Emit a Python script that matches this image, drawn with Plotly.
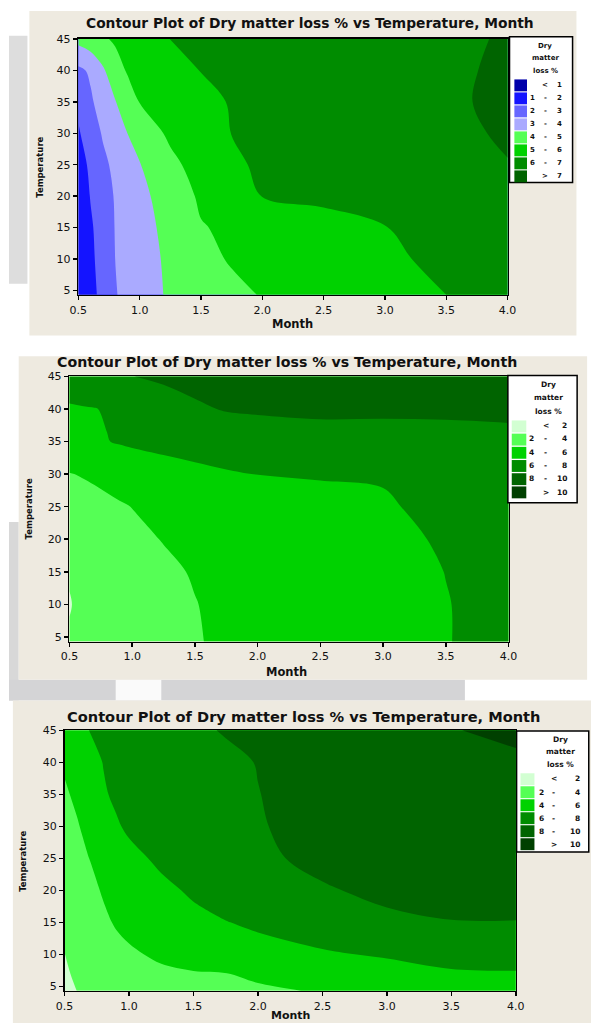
import plotly.graph_objects as go

# ---------------- data ----------------
months = [0.5, 0.6, 0.7, 0.8, 0.9, 1.0, 1.25, 1.5, 1.75, 2.0, 2.5, 3.0, 3.5, 4.0]

temps_a = [4.3, 10, 15, 20, 25, 30, 35, 40, 45]
loss_a = [
    [1.05, 1.68, 2.31, 2.94, 3.26, 3.56, 4.13, 4.45, 4.78, 5.05, 5.37, 5.68, 6.00, 6.30],
    [1.10, 1.79, 2.41, 3.00, 3.28, 3.56, 4.20, 4.74, 5.08, 5.24, 5.55, 5.86, 6.18, 6.50],
    [1.20, 1.87, 2.47, 3.03, 3.32, 3.62, 4.31, 4.95, 5.15, 5.32, 5.65, 5.98, 6.29, 6.60],
    [1.30, 2.05, 2.58, 3.07, 3.40, 3.73, 4.49, 5.13, 5.58, 6.02, 6.20, 6.40, 6.60, 6.80],
    [1.50, 2.22, 2.78, 3.22, 3.59, 3.96, 4.77, 5.38, 5.90, 6.09, 6.31, 6.54, 6.76, 6.98],
    [1.90, 2.50, 3.09, 3.55, 4.00, 4.40, 5.18, 5.61, 6.01, 6.13, 6.38, 6.62, 6.86, 7.07],
    [2.20, 2.87, 3.42, 3.95, 4.53, 5.03, 5.41, 5.79, 6.05, 6.17, 6.41, 6.65, 6.85, 7.20],
    [2.80, 3.14, 3.86, 4.62, 5.08, 5.25, 5.67, 6.02, 6.13, 6.23, 6.44, 6.66, 6.87, 7.12],
    [4.30, 4.59, 4.88, 5.12, 5.32, 5.52, 6.01, 6.10, 6.19, 6.29, 6.48, 6.67, 6.86, 7.06],
]

temps_b = [4.3, 10, 15, 20, 25, 30, 35, 40, 45]
loss_b = [
    [2.20, 2.55, 2.80, 3.00, 3.20, 3.35, 3.65, 3.90, 4.25, 4.55, 4.95, 5.30, 5.95, 6.45],
    [1.90, 2.40, 2.70, 2.95, 3.15, 3.30, 3.65, 3.96, 4.30, 4.60, 5.00, 5.30, 5.95, 6.50],
    [2.15, 2.60, 2.85, 3.05, 3.25, 3.40, 3.75, 4.10, 4.45, 4.75, 5.15, 5.45, 6.02, 6.60],
    [2.70, 2.95, 3.15, 3.35, 3.55, 3.70, 4.05, 4.40, 4.75, 5.05, 5.40, 5.65, 6.15, 6.80],
    [3.20, 3.40, 3.60, 3.75, 3.88, 4.02, 4.40, 4.75, 5.10, 5.40, 5.60, 5.80, 6.50, 7.00],
    [3.95, 4.08, 4.20, 4.35, 4.55, 4.80, 5.30, 5.60, 5.85, 6.02, 6.10, 6.15, 6.50, 6.80],
    [5.20, 5.45, 5.70, 5.95, 6.15, 6.30, 6.50, 6.70, 6.90, 7.10, 7.35, 7.30, 7.40, 7.60],
    [5.80, 5.88, 5.95, 6.13, 6.47, 6.80, 7.28, 7.77, 8.10, 8.20, 8.30, 8.30, 8.30, 8.30],
    [7.00, 7.20, 7.40, 7.60, 7.80, 7.98, 8.25, 8.50, 8.75, 9.00, 9.20, 9.40, 9.60, 9.80],
]

temps_c = [4.3, 7, 10, 15, 20, 25, 30, 35, 40, 45]
loss_c = [
    [1.70, 2.02, 2.40, 2.75, 3.00, 3.20, 3.45, 3.60, 3.75, 3.80, 4.10, 4.50, 4.80, 5.00],
    [1.80, 2.25, 2.65, 2.95, 3.20, 3.40, 3.70, 3.88, 3.98, 4.25, 4.75, 5.30, 5.85, 5.90],
    [1.98, 2.40, 2.80, 3.15, 3.50, 3.75, 4.30, 4.80, 5.10, 5.35, 5.80, 6.20, 6.50, 6.60],
    [2.35, 2.75, 3.20, 3.70, 4.15, 4.50, 5.10, 5.55, 5.95, 6.30, 7.00, 7.70, 7.95, 7.95],
    [2.70, 3.10, 3.60, 4.15, 4.60, 5.00, 5.60, 6.25, 6.80, 7.20, 7.85, 8.35, 8.60, 8.70],
    [3.10, 3.55, 4.05, 4.55, 5.05, 5.50, 6.35, 6.90, 7.30, 7.70, 8.40, 8.85, 9.15, 9.35],
    [3.50, 3.90, 4.50, 5.10, 5.80, 6.30, 6.75, 7.10, 7.45, 7.90, 8.50, 8.95, 9.25, 9.45],
    [3.80, 4.30, 5.10, 5.80, 6.30, 6.55, 6.90, 7.25, 7.60, 7.97, 8.60, 9.00, 9.30, 9.50],
    [4.20, 4.80, 5.40, 6.05, 6.40, 6.65, 7.00, 7.35, 7.70, 8.05, 8.60, 9.00, 9.30, 9.60],
    [5.20, 5.60, 6.05, 6.30, 6.50, 6.70, 7.20, 7.75, 8.10, 8.50, 9.00, 9.40, 9.90, 10.50],
]

levels_a = [1, 2, 3, 4, 5, 6, 7]
levels_bc = [2, 4, 6, 8, 10]
colors_a = ["#0000AA", "#1414FF", "#6666FF", "#AAAAFF", "#55FF55", "#00D200", "#008C00", "#006400"]
colors_bc = ["#D2FFD2", "#55FF55", "#00D200", "#008C00", "#006400", "#004000"]

month_ticks = [0.5, 1.0, 1.5, 2.0, 2.5, 3.0, 3.5, 4.0]
temp_ticks = [5, 10, 15, 20, 25, 30, 35, 40, 45]
chart_title = "Contour Plot of Dry matter loss % vs Temperature, Month"
legend_title = ["Dry", "matter", "loss %"]
x_title = "Month"
y_title = "Temperature"

# ---------------- layout helpers ----------------
W, H = 600, 1025
FONT = "DejaVu Sans"


def PX(x):
    return x / W


def PY(y):
    return 1 - y / H


shapes = []
annotations = []


def rect(x0, y0, x1, y1, fill, line=None, lw=0, layer="below"):
    shapes.append(dict(type="rect", xref="paper", yref="paper",
                       x0=PX(x0), x1=PX(x1), y0=PY(y1), y1=PY(y0),
                       fillcolor=fill, layer=layer,
                       line=dict(color=line or fill, width=lw)))


def text(x, y, s, size, bold=False, xanchor="center", angle=0, color="#111111"):
    annotations.append(dict(xref="paper", yref="paper", x=PX(x), y=PY(y), text=s,
                            showarrow=False, xanchor=xanchor, yanchor="middle",
                            textangle=angle,
                            font=dict(family=FONT, size=size, color=color,
                                      weight="bold" if bold else "normal")))


# page background patches (screenshot backdrop)
rect(0, 30, 19, 280, "#DDDDDD")
rect(0, 520, 10, 700, "#D8D8D8")
rect(0, 679, 470, 700, "#D4D4D6")
rect(110, 679, 157, 700, "#FAFAFA")

panels = [
    dict(bg=(21, 5, 585, 332), plot=(71.5, 33.3, 514, 291), z=loss_a, t=temps_a,
         lv=levels_a, col=colors_a, title=(310, 17, 13.8), xt=(292, 321), yt=(32, 163),
         leg=dict(box=(516, 31, 581, 178), tx=553, ty=40, tdy=12.7,
                  sx=(521, 534), s0=74, sdy=13.1, sh=12,
                  lx=540, dx=553, rx=572, l0=80, ldy=13.1, fs=7)),
    dict(bg=(10, 353, 596, 679), plot=(62.3, 373.3, 515, 640.5), z=loss_b, t=temps_b,
         lv=levels_bc, col=colors_bc, title=(287, 359, 14.2), xt=(286, 671), yt=(21, 507),
         leg=dict(box=(514.3, 372.3, 585.7, 500.7), tx=556.7, ty=381.7, tdy=13.3,
                  sx=(518.3, 533.3), s0=417.7, sdy=13.3, sh=12,
                  lx=538.3, dx=553.3, rx=577.7, l0=423, ldy=13.4, fs=7.5)),
    dict(bg=(4, 700, 600, 1025), plot=(57.3, 730, 522.5, 992.5), z=loss_c, t=temps_c,
         lv=levels_bc, col=colors_bc, title=(304, 716, 14.6), xt=(290, 1017), yt=(15, 862),
         leg=dict(box=(523.3, 730.7, 597.7, 852.7), tx=568.3, ty=739.3, tdy=12.5,
                  sx=(527.3, 541.7), s0=773.3, sdy=13.1, sh=12,
                  lx=549.3, dx=561.7, rx=591, l0=779, ldy=13.3, fs=7.5)),
]

fig = go.Figure()

for i, p in enumerate(panels):
    k = "" if i == 0 else str(i + 1)
    bx0, by0, bx1, by1 = p["bg"]
    rect(bx0, by0, bx1, by1, "#EEEAE0")

    lv = p["lv"]
    n = len(lv)
    cscale = [[j / n, c] for j, c in enumerate(p["col"])]
    fig.add_trace(go.Contour(
        x=months, y=p["t"], z=p["z"],
        xaxis="x" + k, yaxis="y" + k,
        autocontour=False,
        contours=dict(start=lv[0], end=lv[-1], size=lv[1] - lv[0],
                      coloring="fill", showlines=False),
        line=dict(width=0),
        colorscale=cscale, showscale=False, hoverinfo="skip",
    ))

    x0, y0, x1, y1 = p["plot"]
    axcommon = dict(showgrid=False, zeroline=False, showline=True, mirror=True,
                    linecolor="black", linewidth=1.6, ticks="outside", ticklen=4,
                    tickwidth=1.5, tickcolor="black",
                    tickfont=dict(family=FONT, size=11, color="#111111"))
    fig.update_layout(**{
        "xaxis" + k: dict(domain=[PX(x0), PX(x1)], range=[0.5, 4.0], anchor="y" + k,
                          tickvals=month_ticks, ticktext=[f"{m:.1f}" for m in month_ticks],
                          **axcommon),
        "yaxis" + k: dict(domain=[PY(y1), PY(y0)], range=[4.3, 45], anchor="x" + k,
                          tickvals=temp_ticks, **axcommon),
    })

    tx, ty, ts = p["title"]
    text(tx, ty, chart_title, ts, bold=True)
    text(p["xt"][0], p["xt"][1], x_title, 11.5 if i < 2 else 11, bold=True)
    text(p["yt"][0], p["yt"][1], y_title, 8.5, bold=True, angle=-90)

    # legend box
    L = p["leg"]
    lx0, ly0, lx1, ly1 = L["box"]
    rect(lx0, ly0, lx1, ly1, "white", line="black", lw=1.5, layer="above")
    for j, s in enumerate(legend_title):
        text(L["tx"], L["ty"] + j * L["tdy"], s, L["fs"], bold=True)
    cols = p["col"]
    for j, c in enumerate(cols):
        top = L["s0"] + j * L["sdy"]
        rect(L["sx"][0], top, L["sx"][1], top + L["sh"], c, layer="above")
        yy = L["l0"] + j * L["ldy"]
        if j == 0:
            text(L["dx"], yy, "<", L["fs"], bold=True)
            text(L["rx"], yy, str(lv[0]), L["fs"], bold=True, xanchor="right")
        elif j == len(cols) - 1:
            text(L["dx"], yy, ">", L["fs"], bold=True)
            text(L["rx"], yy, str(lv[-1]), L["fs"], bold=True, xanchor="right")
        else:
            text(L["lx"], yy, str(lv[j - 1]), L["fs"], bold=True)
            text(L["dx"], yy, "-", L["fs"], bold=True)
            text(L["rx"], yy, str(lv[j]), L["fs"], bold=True, xanchor="right")

fig.update_layout(width=W, height=H, margin=dict(l=0, r=0, t=0, b=0),
                  paper_bgcolor="white", plot_bgcolor="white",
                  showlegend=False, shapes=shapes, annotations=annotations)

fig.write_html("out.html",
               config={"displayModeBar": False, "staticPlot": True},
               post_script="document.body.style.margin='0';"
                           "document.body.style.overflow='hidden';")
